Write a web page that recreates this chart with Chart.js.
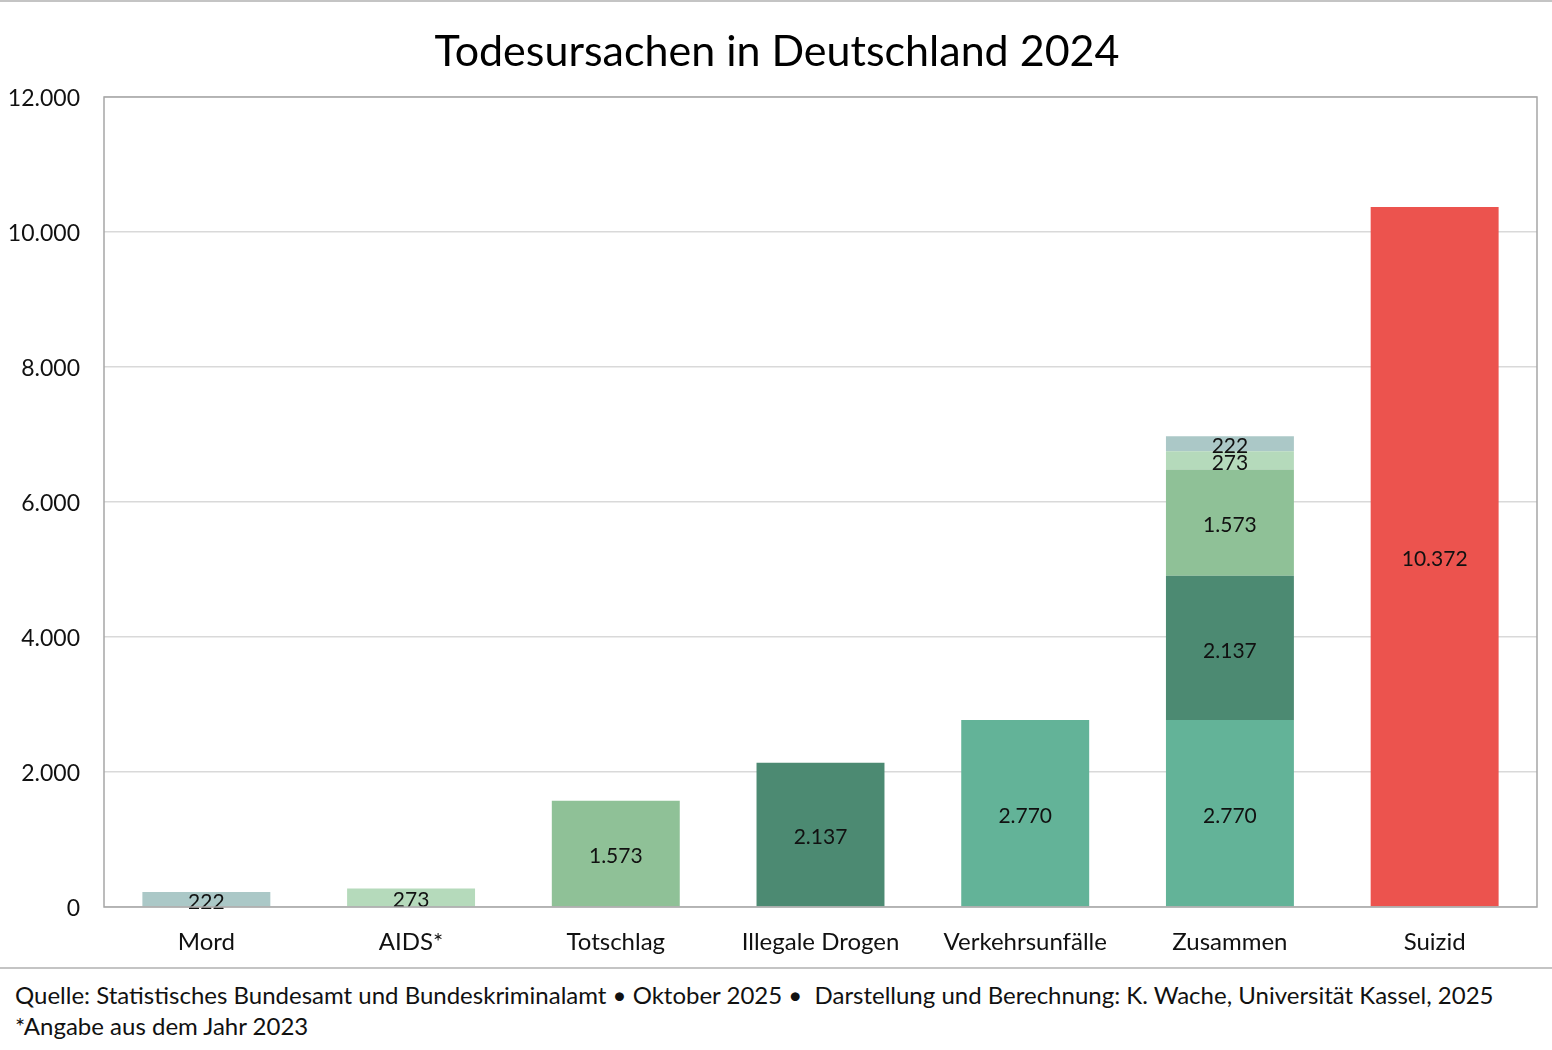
<!DOCTYPE html>
<html lang="de">
<head>
<meta charset="utf-8">
<title>Todesursachen in Deutschland 2024</title>
<script src="https://cdn.jsdelivr.net/npm/chart.js@4.4.1/dist/chart.umd.min.js"></script>
<style>
    html, body { margin: 0; padding: 0; background: #fff; }
    body { width: 1552px; height: 1050px; position: relative; overflow: hidden; font-family: Lato, "Open Sans", sans-serif; }
    #topline { position: absolute; left: 0; top: 0; width: 1552px; height: 2px; background: #c4c4c4; }
    #title { position: absolute; left: 0; top: 24px; width: 1554px; margin: 0; text-align: center; font-size: 43px; font-weight: normal; line-height: 52px; color: #000; }
    #chart-box { position: absolute; left: 0; top: 0; width: 1552px; height: 968px; }
    #sep { position: absolute; left: 0; top: 967px; width: 1552px; height: 2px; background: #c4c4c4; }
    #footer { position: absolute; left: 15px; top: 979px; font-size: 24px; line-height: 31px; color: #111; white-space: nowrap; }
</style>
</head>
<body>
<div id="chart-box"><canvas id="chart" width="1552" height="968"></canvas></div>
<div id="topline"></div>
<h1 id="title">Todesursachen in Deutschland 2024</h1>
<div id="sep"></div>
<div id="footer">
    Quelle: Statistisches Bundesamt und Bundeskriminalamt &bull; Oktober 2025 &bull;&nbsp; Darstellung und Berechnung: K. Wache, Universität Kassel, 2025<br>
    *Angabe aus dem Jahr 2023
</div>

<script>
// --- data ---
const categories = ['Mord', 'AIDS*', 'Totschlag', 'Illegale Drogen', 'Verkehrsunfälle', 'Zusammen', 'Suizid'];
// causes in stacking order of the "Zusammen" bar, bottom to top
const causes = ['Verkehrsunfälle', 'Illegale Drogen', 'Totschlag', 'AIDS*', 'Mord'];
const causeValues = [2770, 2137, 1573, 273, 222];
const causeColors = ['#63b398', '#4c8a72', '#8fc197', '#b5dabb', '#abc8c7'];
const suizidValue = 10372;
const suizidColor = '#ec534e';
const yTicks = [0, 2000, 4000, 6000, 8000, 10000, 12000];

const FONT = 'Lato, "Open Sans", sans-serif';

function fmt(v) {
    return String(v).replace(/\B(?=(\d{3})+(?!\d))/g, '.');
}

// one dataset per cause: its own bar plus its share in "Zusammen"
const datasets = causes.map((name, i) => {
    const data = categories.map(c => (c === name || c === 'Zusammen') ? causeValues[i] : null);
    return { label: name, data: data, backgroundColor: causeColors[i] };
});
datasets.push({
    label: 'Suizid',
    data: categories.map(c => c === 'Suizid' ? suizidValue : null),
    backgroundColor: suizidColor
});

// values written in the middle of each bar segment
const barLabels = {
    id: 'barLabels',
    afterDatasetsDraw(chart) {
        const ctx = chart.ctx;
        ctx.save();
        ctx.font = '21px ' + FONT;
        ctx.fillStyle = '#111';
        ctx.textAlign = 'center';
        ctx.textBaseline = 'middle';
        chart.data.datasets.forEach((ds, di) => {
            chart.getDatasetMeta(di).data.forEach((el, i) => {
                const v = ds.data[i];
                if (v == null) return;
                ctx.fillText(fmt(v), el.x, (el.y + el.base) / 2 + 3);
            });
        });
        ctx.restore();
    }
};

// grey frame round the plot area
const plotFrame = {
    id: 'plotFrame',
    afterDraw(chart) {
        const a = chart.chartArea;
        const ctx = chart.ctx;
        ctx.save();
        ctx.strokeStyle = '#a6a6a6';
        ctx.lineWidth = 1.5;
        ctx.strokeRect(a.left, a.top, a.right - a.left, a.bottom - a.top);
        ctx.restore();
    }
};

new Chart(document.getElementById('chart'), {
    type: 'bar',
    data: { labels: categories, datasets: datasets },
    options: {
        responsive: false,
        animation: false,
        devicePixelRatio: 1,
        layout: { padding: { left: 0, right: 15, top: 97, bottom: 0 } },
        datasets: {
            bar: { categoryPercentage: 1.0, barPercentage: 0.625, skipNull: true }
        },
        plugins: {
            legend: { display: false },
            tooltip: { enabled: false },
            title: { display: false }
        },
        scales: {
            x: {
                stacked: true,
                grid: { display: false, drawTicks: false },
                border: { display: false },
                ticks: { color: '#111', font: { family: FONT, size: 24 }, padding: 21 },
                afterFit(scale) { scale.height = 61; }
            },
            y: {
                stacked: true,
                min: yTicks[0],
                max: yTicks[yTicks.length - 1],
                afterBuildTicks(scale) { scale.ticks = yTicks.map(v => ({ value: v })); },
                grid: { color: '#d9d9d9', lineWidth: 1.5, drawTicks: false },
                border: { display: false },
                ticks: {
                    color: '#111',
                    font: { family: FONT, size: 23 },
                    padding: 24,
                    labelOffset: 2,
                    callback: v => fmt(v)
                },
                afterFit(scale) { scale.width = 104; }
            }
        }
    },
    plugins: [barLabels, plotFrame]
});
</script>
</body>
</html>
